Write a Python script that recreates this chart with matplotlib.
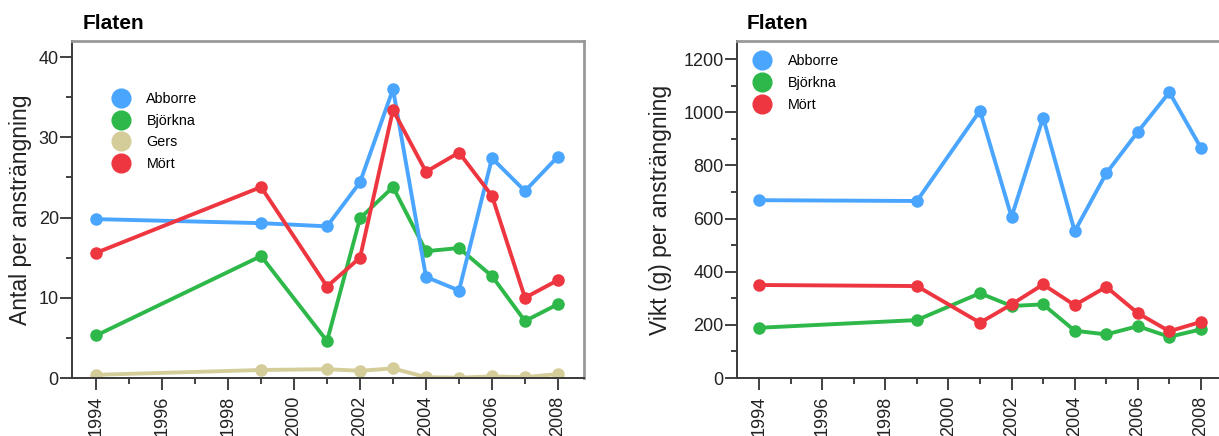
import matplotlib

matplotlib.use("Agg")

import matplotlib.pyplot as plt
from matplotlib.lines import Line2D
from matplotlib.ticker import MultipleLocator

YEARS = [1994, 1999, 2001, 2002, 2003, 2004, 2005, 2006, 2007, 2008]

# antal per anstrangning
ANTAL_ABBORRE = [19.8, 19.3, 18.9, 24.4, 36.0, 12.6, 10.9, 27.4, 23.3, 27.6]
ANTAL_BJORKNA = [5.3, 15.2, 4.6, 19.9, 23.8, 15.8, 16.2, 12.7, 7.1, 9.2]
ANTAL_GERS = [0.4, 1.0, 1.1, 0.9, 1.2, 0.1, 0.05, 0.2, 0.1, 0.5]
ANTAL_MORT = [15.6, 23.8, 11.4, 15.0, 33.4, 25.7, 28.1, 22.7, 10.0, 12.2]

# vikt (g) per anstrangning
VIKT_ABBORRE = [669, 666, 1006, 606, 980, 552, 770, 926, 1075, 866]
VIKT_BJORKNA = [189, 218, 319, 271, 277, 178, 164, 195, 155, 183]
VIKT_MORT = [350, 346, 208, 277, 352, 274, 343, 244, 176, 211]

BLUE = "#4aa5ff"
GREEN = "#2eb84a"
TAN = "#d4cd9a"
RED = "#ee3640"

FONT = ["Liberation Sans", "DejaVu Sans"]

plt.rcParams.update(
    {
        "font.family": FONT,
        "xtick.direction": "out",
        "ytick.direction": "out",
        "xtick.major.size": 8.5,
        "ytick.major.size": 8.5,
        "xtick.minor.size": 4,
        "ytick.minor.size": 4,
        "xtick.major.width": 1.3,
        "ytick.major.width": 1.3,
        "xtick.minor.width": 1.3,
        "ytick.minor.width": 1.3,
        "xtick.color": "#333333",
        "ytick.color": "#333333",
        "xtick.labelcolor": "#222222",
        "ytick.labelcolor": "#222222",
        "xtick.labelsize": 13,
        "ytick.labelsize": 13,
    }
)


def style_axes(ax, ymax, ymajor, yminor, ylabel, label_x):
    ax.set_xlim(1993.27, 2008.79)
    ax.set_ylim(0, ymax)
    ax.xaxis.set_major_locator(MultipleLocator(2))
    ax.xaxis.set_minor_locator(MultipleLocator(1))
    ax.yaxis.set_major_locator(MultipleLocator(ymajor))
    ax.yaxis.set_minor_locator(MultipleLocator(yminor))
    ax.tick_params(axis="x", which="both", labelrotation=90, pad=4.5)
    ax.tick_params(axis="y", which="both", pad=1)
    for side in ("left", "bottom"):
        ax.spines[side].set_color("#3a3a3a")
        ax.spines[side].set_linewidth(1.4)
    for side in ("top", "right"):
        ax.spines[side].set_color("#999999")
        ax.spines[side].set_linewidth(2)
    ax.set_ylabel(ylabel, fontsize=16.5, color="#222222")
    ax.yaxis.set_label_coords(label_x, 0.5)
    ax.text(0.02, 1.035, "Flaten", transform=ax.transAxes, fontsize=15, fontweight="bold",
            va="baseline", ha="left")


def add_legend(ax, series, anchor):
    handles = [
        Line2D([0], [0], marker="o", linestyle="none", markersize=13.5, color=color, label=label)
        for label, color in series
    ]
    ax.legend(handles=handles, loc="upper left", bbox_to_anchor=anchor, frameon=False,
              fontsize=10.3, borderpad=0, borderaxespad=0, handlelength=1.5,
              handletextpad=1.05, labelspacing=0.545)


fig = plt.figure(figsize=(12.19, 4.36), dpi=100)
ax1 = fig.add_axes([0.0591, 0.133, 0.420, 0.773])
ax2 = fig.add_axes([0.6046, 0.133, 0.401, 0.773])

line_kw = dict(marker="o", linewidth=2.8, markersize=8)

ax1.plot(YEARS, ANTAL_GERS, color=TAN, **line_kw)
ax1.plot(YEARS, ANTAL_BJORKNA, color=GREEN, **line_kw)
ax1.plot(YEARS, ANTAL_ABBORRE, color=BLUE, **line_kw)
ax1.plot(YEARS, ANTAL_MORT, color=RED, **line_kw)
style_axes(ax1, 42, 10, 5, "Antal per ansträngning", -0.078)
add_legend(ax1, [("Abborre", BLUE), ("Björkna", GREEN), ("Gers", TAN), ("Mört", RED)], (0.074, 0.849))

ax2.plot(YEARS, VIKT_ABBORRE, color=BLUE, **line_kw)
ax2.plot(YEARS, VIKT_BJORKNA, color=GREEN, **line_kw)
ax2.plot(YEARS, VIKT_MORT, color=RED, **line_kw)
style_axes(ax2, 1268, 200, 100, "Vikt (g) per ansträngning", -0.132)
ax2.set_xlim(1993.3, 2008.79)
add_legend(ax2, [("Abborre", BLUE), ("Björkna", GREEN), ("Mört", RED)], (0.029, 0.961))

fig.savefig("out.png", dpi=100)
